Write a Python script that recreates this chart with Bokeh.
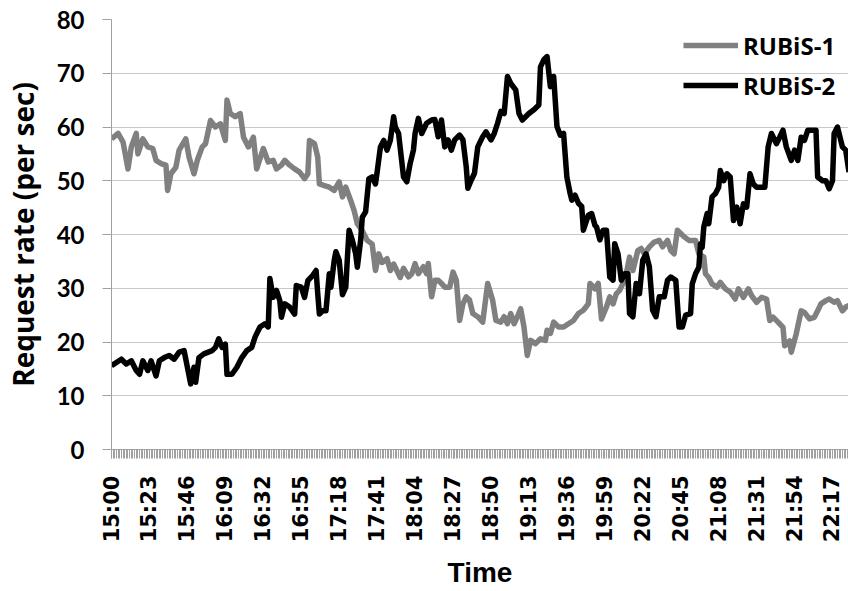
import math

from bokeh.embed import file_html
from bokeh.models import FixedTicker, Legend, LegendItem, Range1d
from bokeh.plotting import figure
from bokeh.resources import INLINE

# Minutes elapsed since 15:00 and the measured request rate (requests per second)
rubis1_min = [0, 4, 7, 10, 12, 15, 16, 19, 22, 25, 27, 30, 33, 34, 36, 39, 41, 45, 47, 50,
              52, 55, 57, 60, 63, 66, 69, 70, 72, 75, 78, 80, 83, 86, 88,
              92, 95, 98, 100, 103, 105, 108, 111, 114, 117, 119, 120, 123, 125, 126, 129,
              132, 135, 138, 140, 142, 145, 147, 149, 152, 155, 158, 160, 162, 164, 167,
              169, 171, 175,
              177, 180, 182, 184, 186, 189, 191, 192, 194, 196, 198, 200, 202, 205, 207,
              209, 211, 213, 215, 217, 219, 222, 225, 228, 231, 233, 236, 238, 240, 242,
              244, 246, 248, 250, 252, 254, 257, 260, 263,
              264, 266, 268, 271, 274, 277, 280, 283, 286, 289, 290, 293, 295, 297, 300,
              302, 304, 306, 308, 310, 312, 314, 316, 319, 321, 323, 326, 329, 332, 334,
              337, 339, 341, 343, 345, 347, 350,
              354, 356, 359, 360, 362, 364, 367, 369, 372, 375, 378, 380, 383, 386, 388,
              391, 394, 397, 399, 401, 404, 407, 408, 411, 412, 415, 418, 420, 423, 426,
              428, 430, 433, 435, 438, 440, 443, 445, 447]
rubis1_rate = [57.8, 58.8, 57.2, 52.2, 56.3, 58.8, 55.0, 57.8, 56.3, 56.0, 53.8, 53.2, 52.9,
               48.2, 51.3, 52.5, 55.7, 57.8, 54.4, 51.3, 53.8, 56.3, 56.9, 61.2, 60.0, 60.6,
               57.5, 65.0, 62.5, 61.9, 62.5, 58.1, 56.3, 58.1, 52.2,
               56.0, 53.5, 53.8, 52.2, 52.9, 53.8, 52.9, 52.2, 51.6, 50.4, 51.3, 57.5, 56.9,
               54.4, 49.4, 49.1, 48.8, 48.2, 49.8, 47.0, 48.8, 46.3, 44.5, 42.0, 40.7, 38.9,
               38.2, 33.3, 36.4, 34.8, 35.5, 33.3, 34.5, 32.0,
               33.7, 32.1, 32.7, 34.6, 32.7, 34.0, 32.7, 34.6, 28.4, 31.5, 31.5, 30.9, 30.2,
               30.2, 33.0, 31.5, 24.0, 27.1, 28.4, 27.8, 25.3, 24.7, 23.7, 30.9, 27.8, 24.0,
               23.7, 24.7, 23.4, 25.3, 23.4, 24.7, 26.2, 22.8, 17.5, 20.3, 19.7, 20.6, 20.3,
               22.2, 21.6, 23.7, 22.8, 22.8, 23.4, 24.0, 25.3, 25.9, 27.1, 30.9, 29.9, 30.9,
               24.3, 26.5, 28.4, 27.1, 29.0, 29.6, 30.9, 32.7, 35.8, 33.3, 37.0, 37.4, 36.4,
               37.7, 38.6, 38.9, 37.7, 38.9, 37.0, 36.4, 40.8, 40.2, 39.6, 38.9,
               38.9, 36.4, 35.8, 32.7, 32.0, 30.8, 30.2, 31.1, 29.9, 29.3, 28.0, 29.9, 28.3,
               29.9, 28.6, 27.4, 28.3, 28.0, 24.0, 24.6, 23.7, 22.7, 19.3, 20.2, 18.1, 21.5,
               25.8, 25.5, 24.3, 24.6, 25.8, 27.1, 27.7, 28.0, 27.4, 27.7, 25.8, 26.5, 26.8]

rubis2_min = [0, 6, 9, 12, 15, 17, 19, 22, 24, 27, 29, 32, 35, 38, 41, 44, 46, 48, 50, 51,
              53, 56, 61, 63, 65, 67, 69, 70, 73, 76, 79, 82, 85, 87,
              90, 93, 95, 96, 98, 100, 102, 103, 105, 108, 111, 112, 115, 117, 119, 122,
              124, 125, 126, 128, 130, 132, 133, 135, 136, 138, 140, 142, 143, 144, 146,
              148, 149, 151, 152, 154, 156, 158, 160, 161, 163, 165, 167, 169, 171, 172, 174,
              177, 179, 181, 183, 184, 186, 188, 191, 194, 196, 198, 200, 202, 204, 206,
              208, 211, 213, 215, 216, 218, 220, 222, 225, 227, 230, 232, 234, 236, 238,
              240, 242, 245, 247, 249, 251, 253, 256, 259, 260, 262,
              264, 266, 268, 270, 272, 274, 276, 278, 279, 281, 283, 285, 286, 289, 291,
              293, 294, 296, 298, 300, 302, 304, 305, 307, 309, 311, 313, 314, 316, 318,
              320, 322, 324, 326, 328, 330, 332, 335, 337, 339, 342, 344, 346, 348, 351,
              352, 354, 356, 357, 358, 359, 361, 362, 364, 366, 368, 369, 371, 373, 375,
              377, 379, 381, 383, 385, 387, 389, 391, 394, 396, 398, 400, 403, 405, 407,
              409, 412, 414, 416, 418, 420, 422, 425, 427, 428, 431, 433, 435, 437, 438,
              440, 443, 445, 447]
rubis2_rate = [15.6, 16.8, 15.9, 16.5, 14.7, 14.0, 16.5, 14.7, 16.5, 13.7, 16.5, 17.1, 17.5,
               16.8, 18.1, 18.4, 15.3, 12.2, 15.3, 12.5, 17.1, 17.8, 18.4, 19.0, 20.6, 19.0,
               19.6, 14.0, 14.0, 15.3, 17.1, 18.4, 19.0, 20.9,
               22.8, 23.4, 22.8, 31.8, 28.3, 29.6, 27.7, 24.6, 27.1, 26.5, 25.2, 30.5, 30.2,
               28.3, 31.4, 32.4, 33.3, 29.0, 25.2, 25.8, 25.8, 32.7, 30.2, 35.2, 36.8, 35.2,
               28.8, 30.2, 35.8, 40.8, 38.9, 36.4, 33.9, 38.9, 43.2, 44.2, 50.4, 50.7, 49.4,
               51.6, 56.3, 57.5, 55.7, 57.5, 61.9, 60.0, 58.8,
               50.7, 49.8, 53.2, 55.7, 58.8, 61.6, 58.8, 60.7, 61.3, 61.4, 58.2, 61.3, 56.3,
               57.6, 55.7, 57.6, 58.5, 57.6, 52.6, 48.6, 50.1, 51.4, 56.3, 58.2, 59.1, 57.6,
               58.8, 60.7, 62.9, 62.5, 69.4, 68.1, 66.9, 62.5, 61.3, 61.9, 62.5, 63.2, 64.1,
               71.2, 72.5,
               73.1, 67.5, 69.4, 60.1, 58.5, 58.8, 50.7, 47.6, 46.4, 47.3, 45.8, 45.2, 40.8,
               43.6, 43.9, 41.7, 41.4, 39.0, 40.8, 40.8, 32.1, 31.5, 38.3, 36.4, 31.5, 32.7,
               32.7, 25.3, 24.7, 30.9, 29.0, 35.2, 36.4, 34.0, 25.9, 24.7, 28.4, 28.4, 31.5,
               32.1, 31.5, 22.8, 22.8, 25.0, 25.3,
               30.8, 32.7, 33.9, 38.3, 37.6, 41.4, 43.9, 42.0, 47.0, 47.6, 48.8, 51.9, 50.0,
               51.3, 50.7, 42.6, 45.1, 42.0, 45.7, 45.1, 51.3, 49.4, 48.8, 48.8, 48.8, 56.3,
               58.8, 56.9, 58.1, 59.4, 56.3, 53.8, 55.7, 53.8, 58.1, 57.5, 59.4, 59.4, 59.4,
               50.7, 50.0, 50.0, 48.5, 50.0, 58.8, 60.0, 56.3, 55.7, 51.6]

# One label every 23 minutes along the time axis
time_labels = ["15:00", "15:23", "15:46", "16:09", "16:32", "16:55", "17:18", "17:41",
               "18:04", "18:27", "18:50", "19:13", "19:36", "19:59", "20:22", "20:45",
               "21:08", "21:31", "21:54", "22:17"]
label_step = 23
rate_ticks = [0, 10, 20, 30, 40, 50, 60, 70, 80]

AXIS_GREY = "#a0a0a0"

p = figure(width=848, height=591, output_backend="svg", toolbar_location=None,
           x_range=Range1d(0, 446.7), y_range=Range1d(0, 80),
           min_border_left=110, min_border_right=0, min_border_top=19,
           min_border_bottom=142)
p.outline_line_color = None
p.background_fill_color = "white"
p.border_fill_color = "white"

# Grid: horizontal lines only
p.xgrid.grid_line_color = None
p.ygrid.ticker = FixedTicker(ticks=rate_ticks)
p.ygrid.grid_line_color = "#c8c8c8"
p.ygrid.grid_line_width = 1

# Series lines (RUBiS-2 drawn on top)
r1 = p.line(rubis1_min, rubis1_rate, line_color="#808080", line_width=5.5, line_join="round")
r2 = p.line(rubis2_min, rubis2_rate, line_color="#000000", line_width=5.5, line_join="round")

# Y axis
yax = p.yaxis[0]
yax.ticker = FixedTicker(ticks=rate_ticks)
yax.axis_line_color = AXIS_GREY
yax.major_tick_line_color = AXIS_GREY
yax.major_tick_in = 0
yax.major_tick_out = 9
yax.minor_tick_line_color = None
yax.major_label_standoff = 18
yax.major_label_text_font = "Lato"
yax.major_label_text_font_style = "bold"
yax.major_label_text_font_size = "24px"
yax.major_label_text_color = "black"
yax.axis_label = "Request rate (per sec)"
yax.axis_label_text_font = "Open Sans"
yax.axis_label_text_font_style = "bold"
yax.axis_label_text_font_size = "28px"
yax.axis_label_text_color = "black"
yax.axis_label_standoff = 12

# X axis: a tick for every minute, a label every 23 minutes
label_pos = [i * label_step for i in range(len(time_labels))]
xax = p.xaxis[0]
xax.ticker = FixedTicker(ticks=label_pos, minor_ticks=list(range(0, 448)))
xax.major_label_overrides = {pos: lab for pos, lab in zip(label_pos, time_labels)}
xax.major_label_orientation = math.pi / 2
xax.axis_line_color = AXIS_GREY
xax.major_tick_line_color = AXIS_GREY
xax.minor_tick_line_color = AXIS_GREY
xax.major_tick_in = 0
xax.major_tick_out = 9
xax.minor_tick_in = 0
xax.minor_tick_out = 9
xax.major_label_standoff = 17
xax.major_label_text_font = "DejaVu Sans"
xax.major_label_text_font_style = "bold"
xax.major_label_text_font_size = "21px"
xax.major_label_text_color = "black"
xax.axis_label = "Time"
xax.axis_label_text_font = "Liberation Sans"
xax.axis_label_text_font_style = "bold"
xax.axis_label_text_font_size = "28px"
xax.axis_label_text_color = "black"
xax.axis_label_standoff = 12

# Legend in the upper right of the plotting area; the location is the
# legend's lower-left corner measured from the frame's lower-left corner
legend = Legend(
    items=[LegendItem(label="RUBiS-1", renderers=[r1]),
           LegendItem(label="RUBiS-2", renderers=[r2])],
    location=(572, 344),
    glyph_width=55, glyph_height=40, label_height=40, label_standoff=5,
    spacing=0, padding=0, margin=0,
    border_line_color=None, background_fill_alpha=0,
    label_text_font="Open Sans", label_text_font_style="bold",
    label_text_font_size="24px", label_text_color="black",
)
p.add_layout(legend)

open("out.html", "w").write(file_html(p, INLINE))
